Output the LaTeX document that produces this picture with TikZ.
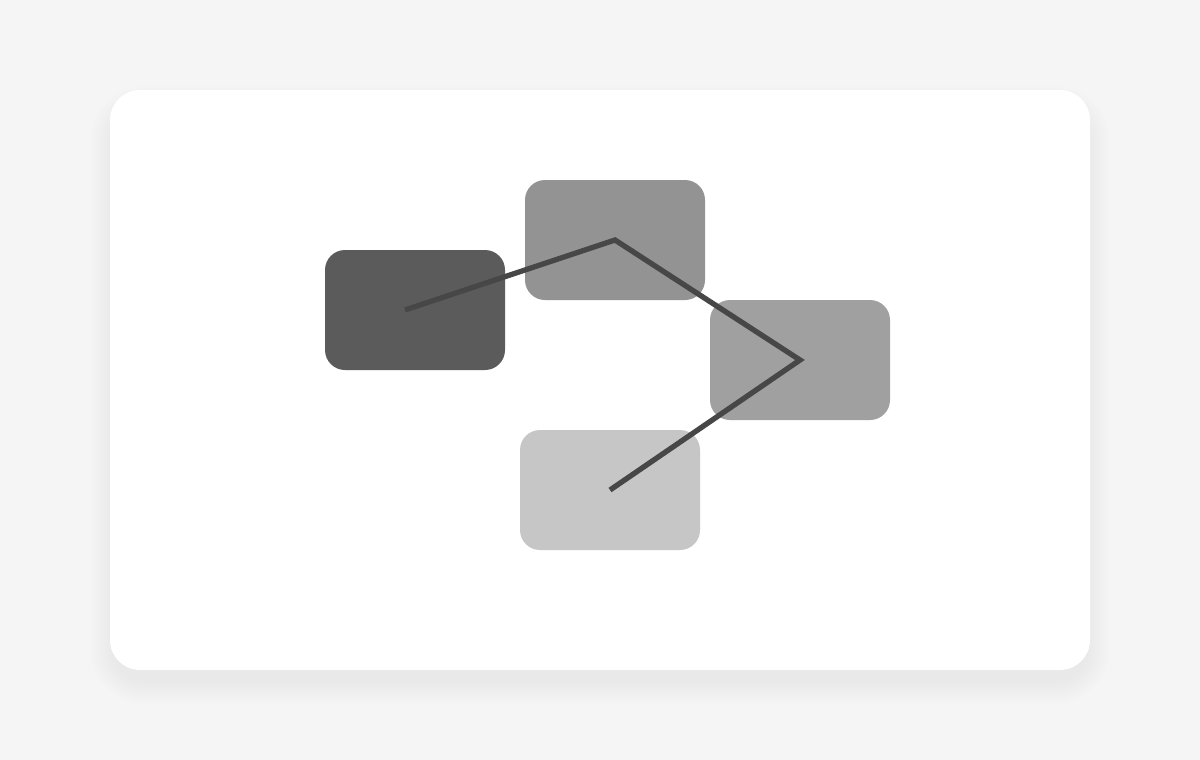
\documentclass[tikz,border=0pt]{standalone}
\begin{document}
\begin{tikzpicture}[x=0.75pt,y=-0.75pt,
  box/.style={rectangle,rounded corners=15pt,minimum width=135pt,minimum height=90pt,inner sep=0pt,draw=none},
  link/.style={draw=linec,line width=4pt,line cap=butt,line join=miter}]
\definecolor{bgc}{HTML}{F5F5F5}
\definecolor{darkc}{HTML}{5B5B5B}
\definecolor{topc}{HTML}{939393}
\definecolor{rightc}{HTML}{A0A0A0}
\definecolor{botc}{HTML}{C6C6C6}
\definecolor{linec}{HTML}{474747}
\fill[bgc] (0,0) rectangle (1200,760);
\useasboundingbox (0,0) rectangle (1200,760);
% shadow
\foreach \i in {1,...,12}{
  \fill[black,opacity=0.004] ({114-2*\i},{110-2*\i}) [rounded corners={(30+2*\i)*0.75pt}] rectangle ({1086+2*\i},{680+2*\i});
}
% card
\fill[white,rounded corners=22.5pt] (110,90) rectangle (1090,670);
% boxes
\node[box,fill=darkc] (dark) at (415,310) {};
\node[box,fill=topc] (top) at (615,240) {};
\node[box,fill=rightc] (right) at (800,360) {};
\node[box,fill=botc] (bot) at (610,490) {};
\coordinate (start) at ([xshift=-7.5pt]dark.center);
\draw[link] (start) -- (top.center) -- (right.center) -- (bot.center);
\end{tikzpicture}
\end{document}
